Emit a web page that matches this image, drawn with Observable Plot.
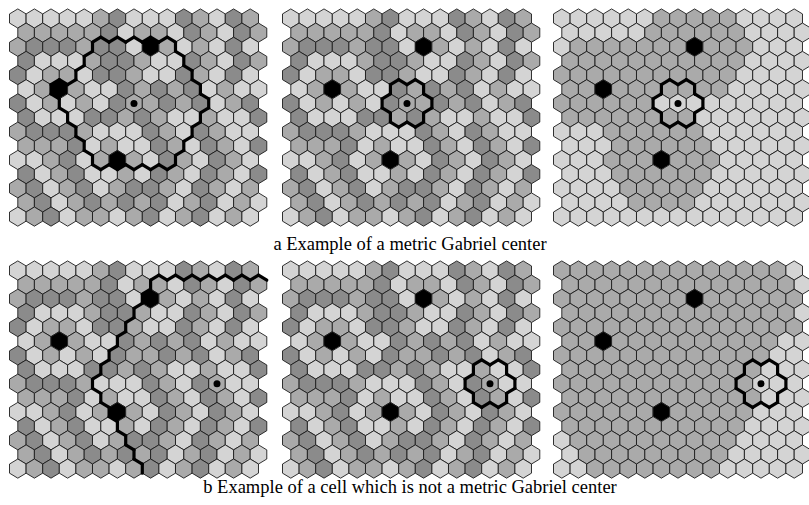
<!DOCTYPE html>
<html><head><meta charset="utf-8">
<script src="https://cdn.jsdelivr.net/npm/d3@7"></script>
<script src="https://cdn.jsdelivr.net/npm/@observablehq/plot@0.6"></script>
<style>
html,body{margin:0;padding:0;background:#fff;}
#fig{position:relative;width:809px;height:505px;overflow:hidden;font-family:"Liberation Serif","Times New Roman",serif;}
#fig svg{position:absolute;background:transparent;overflow:visible;}
.cap{position:absolute;left:0;width:820px;text-align:center;font-size:18.5px;line-height:18.5px;color:#000;white-space:nowrap;}
</style></head><body><div id="fig"></div>
<script>
// ---- data ----
// L = light, M = medium, D = dark grey, B = site (black)
const baseRows = [
  "LLLLLMDLLLDMLDM",
  "MMMMMDLMMLDMLDM",
  "MDDDMDDLBMLMLDL",
  "DLLLMDDMLLDMLDM",
  "DLMMLDDMLLDMLDL",
  "LMBMLLDMDMDLMLL",
  "DLMLMLDMMDMDLMD",
  "DLLLDDMDMLLMLLD",
  "MDDDMLLLDMLDMLL",
  "MMMDLMLLDMLDMLD",
  "LLMDLMBMLDMLDML",
  "DLMDLLMLDMLDMLD",
  "MDLMDLMDDMLDMLM",
  "MDLMDMDMDLMDLML",
  "LMDLMMLMDLMDLML"
];
const partitionRowsA = [
  "LLLLLLMMMMMLLLL",
  "LLLLLMMMMMMLLLL",
  "LMMMMMMMBMMMLLL",
  "MMMMMMMMMMMLLLL",
  "MMMMMMMMMMMLLLL",
  "MMBMMMMMMMLLLLL",
  "MMMMMMLLLLLLLLL",
  "MMMMMMMMLLLLLLL",
  "LLLMMMMMMLLLLLL",
  "LLLMMMMMMLLLLLL",
  "LLLMMMBMMMLLLLL",
  "LLLMMMMMMLLLLLL",
  "LLLLMMMMMLLLLLL",
  "LLLLMMMMLLLLLLL",
  "LLLLLLLLLLLLLLL"
];
const partitionRowsB = [
  "MMMMMMMMMMMMMML",
  "MMMMMMMMMMMMMML",
  "MMMMMMMMBMMMMMM",
  "MMMMMMMMMMMMMML",
  "MMMMMMMMMMMMMMM",
  "MMBMMMMMMMMMMLL",
  "MMMMMMMMMMMMMLL",
  "MMMMMMMMMMMMLLL",
  "MMMMMMMMMMMMLLL",
  "MMMMMMMMMMMMLLL",
  "MMMMMMBMMMMMLLL",
  "MMMMMMMMMMMLLLL",
  "LMMMMMMMMMMLLLL",
  "LMMMMMMMMMLLLLL",
  "LLMMMMMMMMLLLLL"
];
const sites = [[2, 8], [5, 2], [10, 6]];          // [row, column]
const centerA = [6, 7];
const centerB = [8, 12];
// ball of panel a (row -> [first, last] column inside)
const ballRowsA = [null, null, [5, 9], [4, 9], [4, 10], [2, 10], [3, 11], [3, 10], [4, 10], [4, 9], [5, 9], null, null, null, null];
// ball of panel b (open to the right)
const ballRowsB = [null, [8, 99], [8, 99], [7, 99], [7, 99], [6, 99], [6, 99], [5, 99], [5, 99], [5, 99], [6, 99], [6, 99], [7, 99], [7, 99], [8, 99]];
const shades = ["L", "M", "D", "B"];
const shadeColors = ["#d4d4d4", "#aaaaaa", "#8b8b8b", "#000000"];
const captions = ["a Example of a metric Gabriel center", "b Example of a cell which is not a metric Gabriel center"];

// ---- layout ----
const CELL = 16.6, ROW = 14.15, PAD = 11;
const RY = CELL / Math.sqrt(3), HY = ROW - RY;
const T = RY / ROW, H = HY / ROW;
const panelLeft = [9.3, 281.7, 552.7];
const rowCenter0 = [17.7, 269.6];
const captionTop = [234.5, 477.8];

const hexTile = {
  draw(ctx, size) {
    const rx = Math.sqrt(size / Math.PI), ry = rx * 2 / Math.sqrt(3), hy = ROW - ry;
    ctx.moveTo(0, ry); ctx.lineTo(rx, hy); ctx.lineTo(rx, -hy);
    ctx.lineTo(0, -ry); ctx.lineTo(-rx, -hy); ctx.lineTo(-rx, hy); ctx.closePath();
  }
};

function cellsOf(rows) {
  const out = [];
  rows.forEach((s, r) => [...s].forEach((v, k) => {
    const site = sites.some(([sr, sk]) => sr === r && sk === k);
    out.push({r, k, x: k + (r % 2) * 0.5, y: r, v: site ? "B" : v});
  }));
  return out;
}
function nbrs(r, k) {
  const o = r % 2;
  return [[r - 1, k - 1 + o, 5, 0], [r - 1, k + o, 0, 1], [r, k + 1, 1, 2],
          [r + 1, k + o, 2, 3], [r + 1, k - 1 + o, 3, 4], [r, k - 1, 4, 5]];
}
const VOFF = [[0, -T], [0.5, -H], [0.5, H], [0, T], [-0.5, H], [-0.5, -H]];
function rangeMember(rows) {
  return (r, k) => {
    if (r < 0 || r > 14) return null;
    const g = rows[r];
    return g ? (k >= g[0] && k <= g[1]) : false;
  };
}
function flowerMember([cr, ck]) {
  return (r, k) => (r === cr && k === ck) || nbrs(cr, ck).some(([nr, nk]) => nr === r && nk === k);
}
function edgesOf(member) {
  const e = [];
  for (let r = 0; r < 15; r++) for (let k = 0; k < 15; k++) {
    if (!member(r, k)) continue;
    const xu = k + (r % 2) * 0.5;
    for (const [nr, nk, a, b] of nbrs(r, k)) {
      const m = member(nr, nk);
      if (m === null || m) continue;
      e.push({x1: xu + VOFF[a][0], y1: r + VOFF[a][1], x2: xu + VOFF[b][0], y2: r + VOFF[b][1]});
    }
  }
  return e;
}

function panel(rows, member, center) {
  const W = 2 * PAD + 15.5 * CELL, Hh = 2 * PAD + 14 * ROW;
  return Plot.plot({
    width: W, height: Hh, margin: 0,
    style: {background: "transparent", overflow: "visible"},
    x: {domain: [-0.5, 15], range: [PAD, PAD + 15.5 * CELL], axis: null},
    y: {domain: [0, 14], range: [PAD, PAD + 14 * ROW], axis: null},
    color: {domain: shades, range: shadeColors},
    marks: [
      Plot.dot(cellsOf(rows), {x: "x", y: "y", r: CELL / 2, symbol: hexTile, fill: "v", stroke: "#1c1c1c", strokeWidth: 0.9}),
      Plot.link(edgesOf(member), {x1: "x1", y1: "y1", x2: "x2", y2: "y2", stroke: "#000", strokeWidth: 3.2, strokeLinecap: "round"}),
      Plot.dot([{x: center[1] + (center[0] % 2) * 0.5, y: center[0]}], {x: "x", y: "y", r: 3.5, fill: "#000", stroke: "none"})
    ]
  });
}

const fig = document.getElementById("fig");
const specs = [
  [0, 0, baseRows, rangeMember(ballRowsA), centerA],
  [0, 1, baseRows, flowerMember(centerA), centerA],
  [0, 2, partitionRowsA, flowerMember(centerA), centerA],
  [1, 0, baseRows, rangeMember(ballRowsB), centerB],
  [1, 1, baseRows, flowerMember(centerB), centerB],
  [1, 2, partitionRowsB, flowerMember(centerB), centerB]
];
for (const [row, col, rows, member, center] of specs) {
  const svg = panel(rows, member, center);
  svg.style.left = (panelLeft[col] - PAD) + "px";
  svg.style.top = (rowCenter0[row] - PAD) + "px";
  fig.appendChild(svg);
}
captions.forEach((t, i) => {
  const d = document.createElement("div");
  d.className = "cap";
  d.style.top = captionTop[i] + "px";
  d.textContent = t;
  fig.appendChild(d);
});
</script></body></html>
